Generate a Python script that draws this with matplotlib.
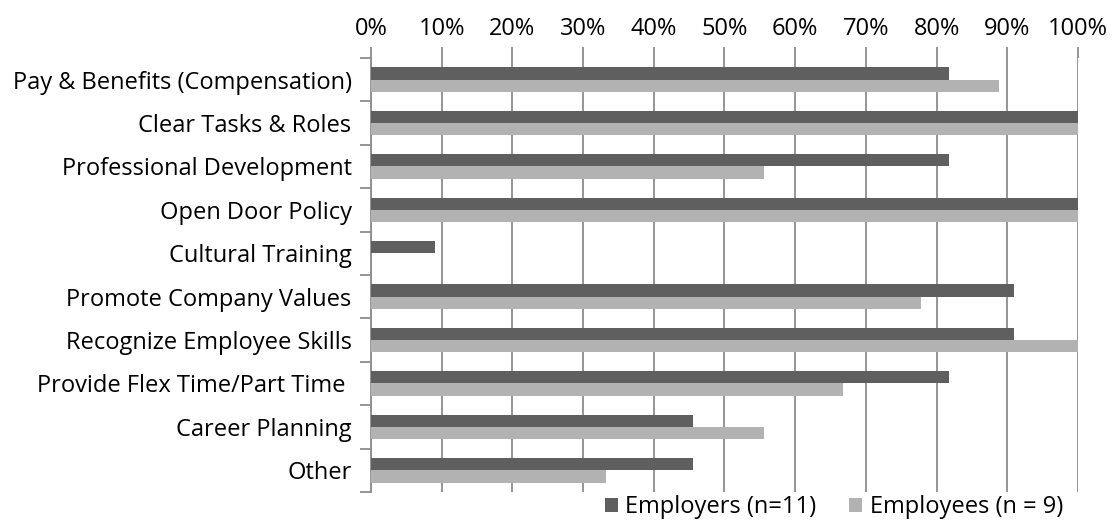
import numpy as np
import matplotlib.pyplot as plt
from matplotlib.ticker import PercentFormatter, FixedLocator

categories = [
    "Pay & Benefits (Compensation)",
    "Clear Tasks & Roles",
    "Professional Development",
    "Open Door Policy",
    "Cultural Training",
    "Promote Company Values",
    "Recognize Employee Skills",
    "Provide Flex Time/Part Time ",
    "Career Planning",
    "Other",
]
employers = [81.8, 100, 81.8, 100, 9.1, 90.9, 90.9, 81.8, 45.5, 45.5]
employees = [88.9, 100, 55.6, 100, 0, 77.8, 100, 66.7, 55.6, 33.3]

plt.rcParams['font.family'] = ['Open Sans', 'DejaVu Sans']
fs = 17

fig = plt.figure(figsize=(11.12, 5.22), dpi=100)
ax = fig.add_axes([0.3336, 0.0575, 0.6358, 0.8314])

y = np.arange(len(categories))
h = 0.285
grid_c = '#8c8c8c'

ax.barh(y - h / 2, employers, height=h, color='#5f5f5f', label='Employers (n=11)', zorder=3)
ax.barh(y + h / 2, employees, height=h, color='#b2b2b2', label='Employees (n = 9)', zorder=3)

ax.set_xlim(0, 100)
ax.set_ylim(len(categories) - 0.5, -0.5)
ax.xaxis.tick_top()
ax.set_xticks(np.arange(0, 101, 10))
ax.xaxis.set_major_formatter(PercentFormatter(decimals=0))
ax.tick_params(axis='x', length=8, color=grid_c, width=1.3, labelsize=fs, pad=4)
ax.grid(axis='x', color=grid_c, linewidth=1.3, zorder=0)

ax.set_yticks(y)
ax.set_yticklabels(categories, fontsize=fs)
ax.yaxis.set_minor_locator(FixedLocator(np.arange(-0.5, len(categories), 1)))
ax.tick_params(axis='y', which='major', length=0, pad=14)
ax.tick_params(axis='y', which='minor', length=8, color=grid_c, width=1.3)

for s in ['top', 'right', 'bottom']:
    ax.spines[s].set_visible(False)
ax.spines['left'].set_color(grid_c)
ax.spines['left'].set_linewidth(1.3)

leg = ax.legend(loc='center', bbox_to_anchor=(0.75, 0.028), bbox_transform=fig.transFigure,
                ncol=2, frameon=False, fontsize=fs, handlelength=0.55, handleheight=0.55,
                handletextpad=0.3, columnspacing=1.4, borderaxespad=0)

fig.savefig('out.png', dpi=100)
